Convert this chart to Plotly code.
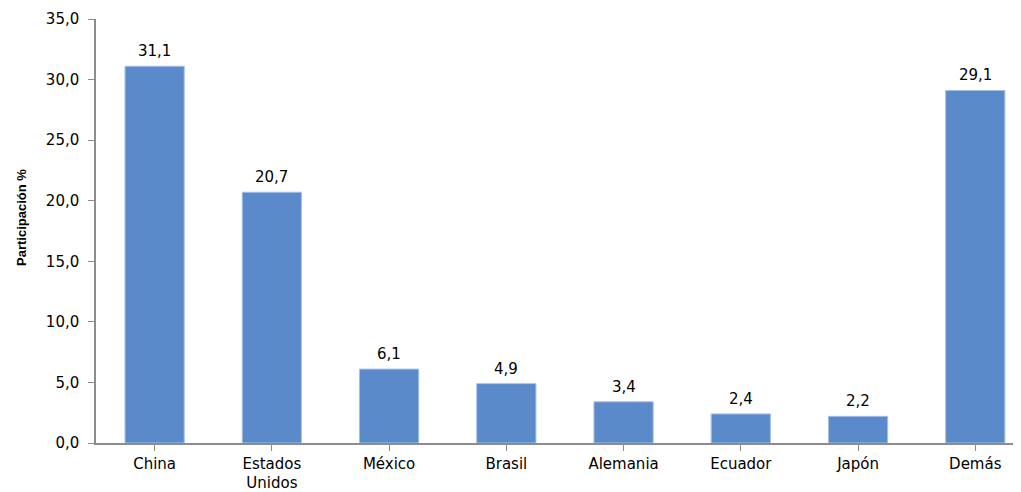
import plotly.graph_objects as go

categories = ["China", "Estados<br>Unidos", "México", "Brasil", "Alemania", "Ecuador", "Japón", "Demás"]
values = [31.1, 20.7, 6.1, 4.9, 3.4, 2.4, 2.2, 29.1]
y_ticks = [0, 5, 10, 15, 20, 25, 30, 35]

xs = list(range(len(categories)))

fig = go.Figure()
fig.add_trace(go.Bar(
    x=xs,
    y=values,
    width=0.505,
    marker=dict(color="#5A8ACA", line=dict(color="#A3C0E6", width=1)),
    hoverinfo="skip",
))

for xi, v in zip(xs, values):
    fig.add_annotation(
        x=xi, y=v, text=f"{v:.1f}".replace(".", ","),
        showarrow=False, yanchor="bottom", yshift=4,
        font=dict(family="DejaVu Sans", size=15, color="#000000"),
    )

# y-axis title placed as a rotated annotation
fig.add_annotation(
    xref="paper", yref="paper", x=-0.0811, y=0.533,
    text="<b>Participación %</b>", textangle=-90, showarrow=False,
    xanchor="center", yanchor="middle",
    font=dict(family="Liberation Sans", size=13, color="#000000"),
)

fig.update_layout(
    width=1013, height=484,
    margin=dict(l=88, r=0, t=11, b=49),
    paper_bgcolor="white", plot_bgcolor="white",
    separators=",.",
    showlegend=False,
    xaxis=dict(
        range=[-0.5, 7.39],
        tickmode="array",
        tickvals=xs,
        ticktext=categories,
        tickson="boundaries",
        showline=True, linecolor="#8C8C8C", linewidth=1.5,
        ticks="outside", ticklen=6, tickcolor="#8C8C8C",
        showgrid=False, zeroline=False,
        automargin=False,
        tickfont=dict(family="DejaVu Sans", size=15, color="#000000"),
    ),
    yaxis=dict(
        range=[0, 35],
        tickmode="array",
        tickvals=y_ticks,
        tickformat=".1f",
        showline=True, linecolor="#8C8C8C", linewidth=1.5,
        ticks="outside", ticklen=6, tickcolor="#8C8C8C",
        showgrid=False, zeroline=False,
        automargin=False,
        ticklabelstandoff=6,
        tickfont=dict(family="DejaVu Sans", size=15, color="#000000"),
    ),
)

fig.write_html("out.html")
